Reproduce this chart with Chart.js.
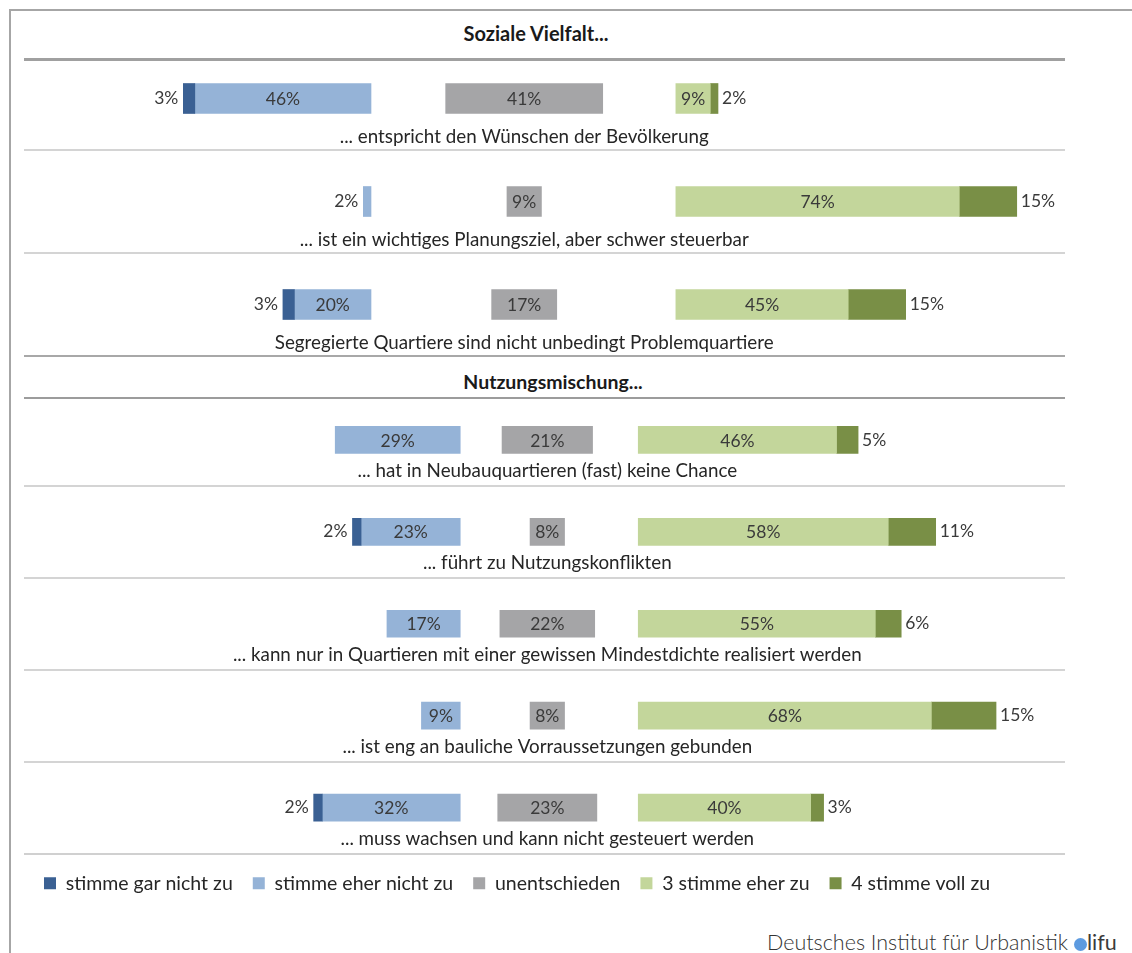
<!DOCTYPE html>
<html>
<head>
<meta charset="utf-8">
<title>Soziale Vielfalt / Nutzungsmischung</title>
<script src="https://cdn.jsdelivr.net/npm/chart.js@4.4.1/dist/chart.umd.min.js"></script>
<style>
  html, body { margin: 0; padding: 0; background: #fff; }
  body { width: 1132px; height: 953px; position: relative; overflow: hidden; font-family: Lato, "Open Sans", sans-serif; color: #262626; }
  .frame { position: absolute; left: 9px; top: 9px; width: 1130px; height: 960px; border-left: 2px solid #a6a6a6; border-top: 2px solid #a6a6a6; }
  .head { position: absolute; left: 0; text-align: center; font-weight: bold; line-height: 24px; color: #1a1a1a; }
  .rule { position: absolute; left: 24px; width: 1041px; height: 0; }
  canvas { position: absolute; left: 0; }
  .footer { position: absolute; left: 767px; top: 929px; font-size: 21.5px; font-weight: 300; color: #333; white-space: nowrap; }
  .footer .dot { display: inline-block; width: 13px; height: 13px; border-radius: 50%; background: #5d9be0; margin-left: 6px; vertical-align: -1px; }
  .footer b { color: #3b3b3b; }
</style>
</head>
<body>
<div class="frame"></div>

<div class="head" style="top:21px; width:1072px; font-size:20px;">Soziale Vielfalt...</div>
<div class="rule" style="top:58px; border-top:3px solid #a0a0a0;"></div>
<canvas id="chart1" width="1132" height="360" style="top:0;"></canvas>

<div class="head" style="top:370px; width:1106px; font-size:19.5px;">Nutzungsmischung...</div>
<div class="rule" style="top:397px; border-top:2px solid #9c9c9c;"></div>
<canvas id="chart2" width="1132" height="545" style="top:360px;"></canvas>

<div class="footer">Deutsches Institut für Urbanistik<span class="dot"></span><b>lifu</b></div>

<script>
// ---- data: Soziale Vielfalt ----
const vielfaltRows = [
  '... entspricht den Wünschen der Bevölkerung',
  '... ist ein wichtiges Planungsziel, aber schwer steuerbar',
  'Segregierte Quartiere sind nicht unbedingt Problemquartiere'
];
const vielfaltGarNicht   = [3, 0, 3];
const vielfaltEherNicht  = [46, 2, 20];
const vielfaltUnent      = [41, 9, 17];
const vielfaltEherZu     = [9, 74, 45];
const vielfaltVollZu     = [2, 15, 15];

// ---- data: Nutzungsmischung ----
const mischungRows = [
  '... hat in Neubauquartieren (fast) keine Chance',
  '... führt zu Nutzungskonflikten',
  '... kann nur in Quartieren mit einer gewissen Mindestdichte realisiert werden',
  '... ist eng an bauliche Vorraussetzungen gebunden',
  '... muss wachsen und kann nicht gesteuert werden'
];
const mischungGarNicht   = [0, 2, 0, 0, 2];
const mischungEherNicht  = [29, 23, 17, 9, 32];
const mischungUnent      = [21, 8, 22, 8, 23];
const mischungEherZu     = [46, 58, 55, 68, 40];
const mischungVollZu     = [5, 11, 6, 15, 3];

const legendLabels = ['stimme gar nicht zu', 'stimme eher nicht zu', 'unentschieden', '3 stimme eher zu', '4 stimme voll zu'];
const colors = ['#3a6093', '#95b3d7', '#a5a5a7', '#c3d69b', '#798f46'];

// negative block ends at 0, neutral block centred at `mid`, positive block starts at `pos`
function buildDatasets(gar, eher, unent, zu, voll, mid, pos, thickness) {
  const f = (arr, fn) => arr.map((v, i) => v ? fn(i) : null);
  const parts = [
    { data: f(gar,   i => [-(eher[i] + gar[i]), -eher[i]]), pct: gar,   where: 'left' },
    { data: f(eher,  i => [-eher[i], 0]),                  pct: eher,  where: 'in' },
    { data: f(unent, i => [mid - unent[i] / 2, mid + unent[i] / 2]), pct: unent, where: 'in' },
    { data: f(zu,    i => [pos, pos + zu[i]]),             pct: zu,    where: 'in' },
    { data: f(voll,  i => [pos + zu[i], pos + zu[i] + voll[i]]), pct: voll, where: 'right' }
  ];
  return parts.map((p, k) => Object.assign(p, {
    label: legendLabels[k],
    backgroundColor: colors[k],
    borderWidth: 0,
    borderSkipped: false,
    grouped: false,
    barThickness: thickness
  }));
}

// percentages on/next to the bars + the statement under each row
const valueLabels = {
  id: 'valueLabels',
  afterDatasetsDraw(chart, args, opts) {
    const ctx = chart.ctx;
    const x = chart.scales.x, y = chart.scales.y;
    ctx.save();
    ctx.textBaseline = 'middle';
    ctx.font = '17.5px Lato, "Open Sans", sans-serif';
    ctx.fillStyle = '#3a3a3a';
    chart.data.datasets.forEach((ds, di) => {
      const meta = chart.getDatasetMeta(di);
      meta.data.forEach((bar, i) => {
        const v = ds.pct[i];
        if (!v) return;
        const left = Math.min(bar.x, bar.base), right = Math.max(bar.x, bar.base);
        const txt = v + '%';
        const w = ctx.measureText(txt).width;
        let where = ds.where;
        if (where === 'in' && w + 4 > right - left) where = 'left';
        if (where === 'left') {
          ctx.textAlign = 'right';
          ctx.fillText(txt, left - 5, bar.y);
        } else if (where === 'right') {
          ctx.textAlign = 'left';
          ctx.fillText(txt, right + 4, bar.y);
        } else {
          ctx.textAlign = 'center';
          ctx.fillText(txt, (left + right) / 2, bar.y + 1);
        }
      });
    });
    // statements
    ctx.font = '18.8px Lato, "Open Sans", sans-serif';
    ctx.fillStyle = '#262626';
    ctx.textAlign = 'center';
    const cx = x.getPixelForValue(opts.center);
    chart.data.labels.forEach((lab, i) => {
      ctx.fillText(lab, cx, y.getPixelForValue(i) + opts.offset);
    });
    ctx.restore();
  }
};

function makeChart(id, rows, datasets, xmin, xmax, mid, capOffset, pad, showLegend) {
  return new Chart(document.getElementById(id), {
    type: 'bar',
    data: { labels: rows, datasets: datasets },
    plugins: [valueLabels],
    options: {
      indexAxis: 'y',
      responsive: false,
      animation: false,
      layout: { padding: pad },
      scales: {
        x: { type: 'linear', min: xmin, max: xmax, display: false },
        y: {
          type: 'category',
          ticks: { display: false },
          border: { display: false },
          grid: {
            offset: true,
            drawTicks: false,
            // first line hidden (drawn as header rule), last one = section bottom
            color: c => c.index === 0 ? 'rgba(0,0,0,0)' : (c.tick ? '#d4d4d4' : (showLegend ? '#d0d0d0' : '#a8a8a8')),
            lineWidth: 2
          }
        }
      },
      plugins: {
        tooltip: { enabled: false },
        valueLabels: { center: mid, offset: capOffset },
        legend: {
          display: showLegend,
          position: 'bottom',
          align: 'start',
          labels: {
            boxWidth: 12,
            boxHeight: 12,
            padding: 20,
            color: '#262626',
            font: { family: 'Lato, "Open Sans", sans-serif', size: 19.5 }
          }
        }
      }
    }
  });
}

// Soziale Vielfalt: 0 at x=371, ~3.83 px per percent
makeChart('chart1', vielfaltRows,
  buildDatasets(vielfaltGarNicht, vielfaltEherNicht, vielfaltUnent, vielfaltEherZu, vielfaltVollZu, 40, 79.6, 30),
  -90.6, 181.2, 40, 38,
  { left: 24, right: 67, top: 47, bottom: 4 }, false);

// Nutzungsmischung: 0 at x=460, ~4.31 px per percent
makeChart('chart2', mischungRows,
  buildDatasets(mischungGarNicht, mischungEherNicht, mischungUnent, mischungEherZu, mischungVollZu, 20.2, 41.3, 27),
  -101.2, 140.3, 20.2, 31,
  { left: 24, right: 67, top: 34, bottom: 2 }, true);
</script>
</body>
</html>
